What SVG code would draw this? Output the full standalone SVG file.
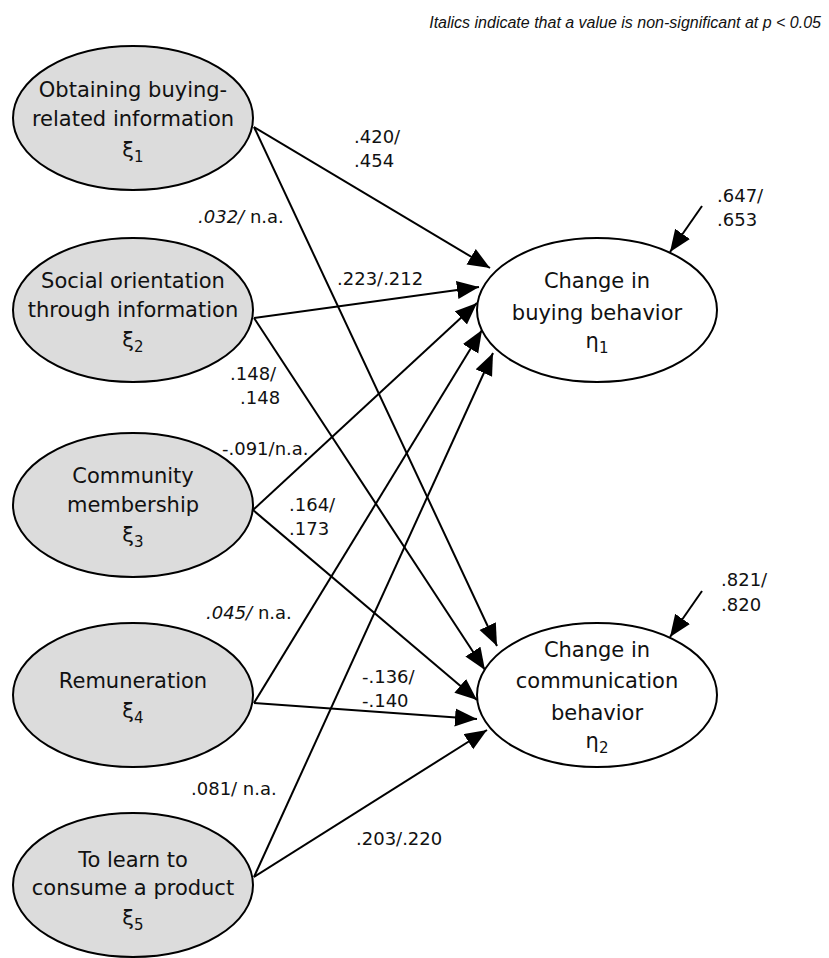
<svg xmlns="http://www.w3.org/2000/svg" width="829" height="958" viewBox="0 0 829 958">
<defs>
<marker id="ah" markerUnits="userSpaceOnUse" markerWidth="24" markerHeight="20" refX="22" refY="9" orient="auto">
<path d="M0,0 L22,9 L0,18 z" fill="#000"/>
</marker>
<style>
.lat{fill:#dcdcdc;stroke:#000;stroke-width:2}
.end{fill:#fff;stroke:#000;stroke-width:2}
.nt{font-family:"DejaVu Sans",Verdana,sans-serif;font-size:21px;fill:#111;text-anchor:middle}
.sub{font-size:15px}
.lb{font-family:"DejaVu Sans",Verdana,sans-serif;font-size:18px;fill:#111}
.it{font-style:italic}
.ttl{font-family:"Liberation Sans",Arial,sans-serif;font-size:16px;font-style:italic;fill:#111;text-anchor:end}
.cn line{stroke:#000;stroke-width:2;marker-end:url(#ah)}
</style>
</defs>
<rect width="829" height="958" fill="#fff"/>
<text class="ttl" x="821" y="28">Italics indicate that a value is non-significant at p &lt; 0.05</text>

<g id="connectors" class="cn">
<line x1="254" y1="127" x2="490" y2="268"/>
<line x1="254" y1="127" x2="497" y2="646"/>
<line x1="254" y1="318" x2="479" y2="287"/>
<line x1="254" y1="318" x2="485" y2="670"/>
<line x1="253" y1="510" x2="477" y2="303"/>
<line x1="253" y1="510" x2="477" y2="700"/>
<line x1="254" y1="703" x2="482" y2="330"/>
<line x1="254" y1="703" x2="477" y2="719"/>
<line x1="254" y1="877" x2="493" y2="353"/>
<line x1="254" y1="877" x2="487" y2="730"/>
<line x1="702" y1="206" x2="670" y2="252"/>
<line x1="702" y1="591" x2="670" y2="637"/>
</g>

<g id="xi1">
<ellipse class="lat" cx="133" cy="118" rx="120" ry="72"/>
<text class="nt" x="133" y="97">Obtaining buying-</text>
<text class="nt" x="133" y="126">related information</text>
<text class="nt" x="133" y="157">ξ<tspan class="sub" dy="5">1</tspan></text>
</g>
<g id="xi2">
<ellipse class="lat" cx="133" cy="310" rx="120" ry="72"/>
<text class="nt" x="133" y="288">Social orientation</text>
<text class="nt" x="133" y="317">through information</text>
<text class="nt" x="133" y="347">ξ<tspan class="sub" dy="5">2</tspan></text>
</g>
<g id="xi3">
<ellipse class="lat" cx="133" cy="505" rx="120" ry="72"/>
<text class="nt" x="133" y="483">Community</text>
<text class="nt" x="133" y="512">membership</text>
<text class="nt" x="133" y="542">ξ<tspan class="sub" dy="5">3</tspan></text>
</g>
<g id="xi4">
<ellipse class="lat" cx="133" cy="695" rx="120" ry="72"/>
<text class="nt" x="133" y="688">Remuneration</text>
<text class="nt" x="133" y="718">ξ<tspan class="sub" dy="5">4</tspan></text>
</g>
<g id="xi5">
<ellipse class="lat" cx="133" cy="885" rx="120" ry="72"/>
<text class="nt" x="133" y="867">To learn to</text>
<text class="nt" x="133" y="895">consume a product</text>
<text class="nt" x="133" y="925">ξ<tspan class="sub" dy="5">5</tspan></text>
</g>
<g id="eta1">
<ellipse class="end" cx="597" cy="310" rx="120" ry="72"/>
<text class="nt" x="597" y="288">Change in</text>
<text class="nt" x="597" y="320">buying behavior</text>
<text class="nt" x="597" y="348">η<tspan class="sub" dy="5">1</tspan></text>
</g>
<g id="eta2">
<ellipse class="end" cx="597" cy="695" rx="120" ry="72"/>
<text class="nt" x="597" y="657">Change in</text>
<text class="nt" x="597" y="688">communication</text>
<text class="nt" x="597" y="720">behavior</text>
<text class="nt" x="597" y="748">η<tspan class="sub" dy="5">2</tspan></text>
</g>

<g id="labels">
<text class="lb" x="354" y="143">.420/</text>
<text class="lb" x="354" y="167">.454</text>
<text class="lb" x="198" y="223"><tspan class="it">.032/</tspan> n.a.</text>
<text class="lb" x="337" y="285">.223/.212</text>
<text class="lb" x="230" y="380">.148/</text>
<text class="lb" x="240" y="404">.148</text>
<text class="lb" x="222" y="455">-.091/n.a.</text>
<text class="lb" x="289" y="511">.164/</text>
<text class="lb" x="289" y="535">.173</text>
<text class="lb" x="206" y="619"><tspan class="it">.045/</tspan> n.a.</text>
<text class="lb" x="362" y="683">-.136/</text>
<text class="lb" x="362" y="707">-.140</text>
<text class="lb" x="191" y="795">.081/ n.a.</text>
<text class="lb" x="356" y="845">.203/.220</text>
<text class="lb" x="717" y="202">.647/</text>
<text class="lb" x="717" y="226">.653</text>
<text class="lb" x="721" y="586">.821/</text>
<text class="lb" x="721" y="611">.820</text>
</g>
</svg>
